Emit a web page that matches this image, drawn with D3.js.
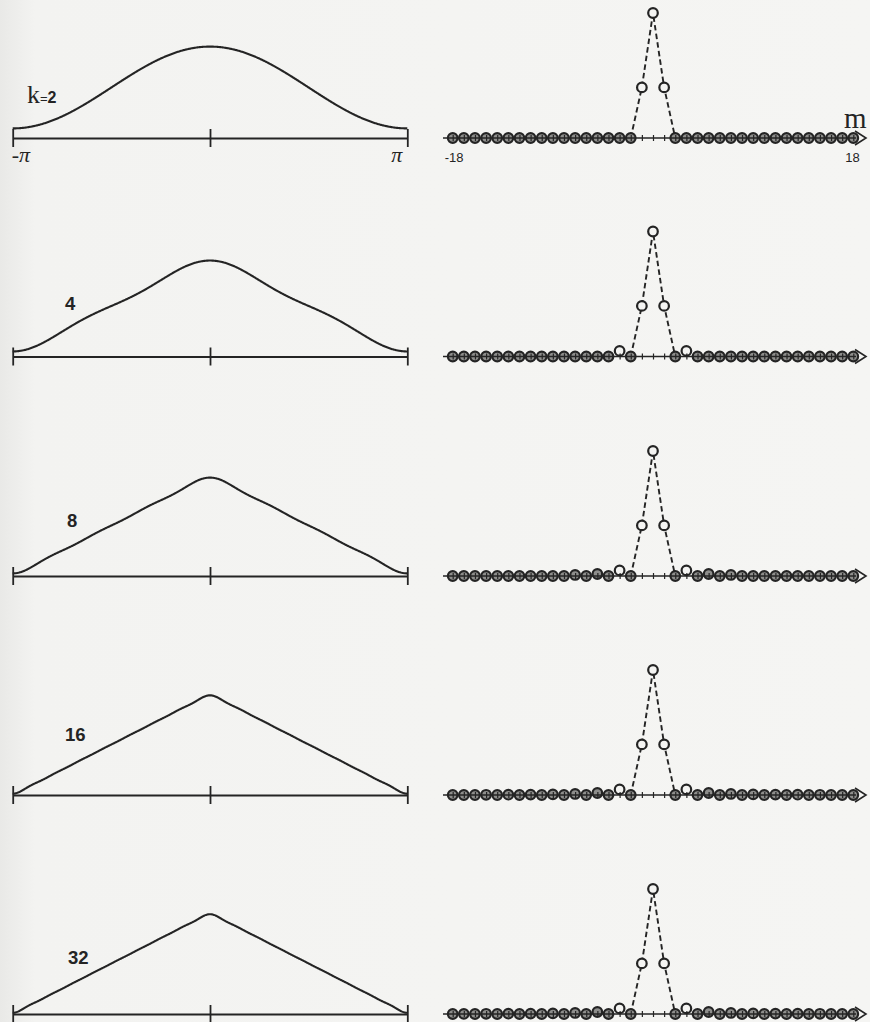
<!DOCTYPE html>
<html>
<head>
<meta charset="utf-8">
<script src="https://cdn.jsdelivr.net/npm/d3@7"></script>
<style>
  html, body { margin: 0; padding: 0; background: #f4f4f2; }
  svg { display: block; }
</style>
</head>
<body>
<svg id="chart" width="870" height="1022"></svg>
<script>
// Number of retained harmonics in each row (|m| < k)
const orders = [2, 4, 8, 16, 32];
const orderLabels = ["2", "4", "8", "16", "32"];

// Fourier amplitudes of the triangle wave, indexed by |m| = 0 … 18 (c0 = 1)
const spectrum = [1, 0.405, 0, 0.045, 0, 0.016, 0, 0.0083, 0, 0.005, 0,
                  0.0034, 0, 0.0024, 0, 0.0018, 0, 0.0014, 0];

// Axis annotations
const thetaTickLabels = ["-π", "π"];
const mTickLabels = ["-18", "18"];
const mDomain = [-18, 18];

// Layout
const W = 870, H = 1022;
const axisYs = [138, 356.5, 576, 795, 1014];
const labelPos = [[27, -35], [65, -47], [67, -49], [65, -54], [68, -50]];
const ink = "#242424";
const paper = "#f4f4f2";

const svg = d3.select("#chart");

// paper tone, slightly darker at the left edge
const defs = svg.append("defs");
const grad = defs.append("linearGradient").attr("id", "paper")
  .attr("x1", 0).attr("x2", 1).attr("y1", 0).attr("y2", 0);
grad.append("stop").attr("offset", 0).attr("stop-color", "#e9e9e7");
grad.append("stop").attr("offset", 0.04).attr("stop-color", "#f3f3f1");
grad.append("stop").attr("offset", 1).attr("stop-color", "#f5f5f3");
svg.append("rect").attr("width", W).attr("height", H).attr("fill", "url(#paper)");

const xL = d3.scaleLinear().domain([-Math.PI, Math.PI]).range([12.7, 407.3]);
const xR = d3.scaleLinear().domain(mDomain).range([452.7, 853.3]);
const mAll = d3.range(mDomain[0], mDomain[1] + 1);

orders.forEach((k, i) => {
  const y0 = axisYs[i];
  const yL = d3.scaleLinear().domain([0, 1]).range([y0, y0 - 50.5]);
  const yR = d3.scaleLinear().domain([0, 1]).range([y0, y0 - 125]);

  // coefficients kept in this row
  const coef = m => (Math.abs(m) < k ? spectrum[Math.abs(m)] : 0);
  const pts = mAll.map(m => ({ m, c: coef(m) }));

  // ---------- left: partial Fourier sum on [-π, π] ----------
  const g = svg.append("g");
  const samples = d3.range(0, 601).map(j => {
    const x = -Math.PI + (2 * Math.PI * j) / 600;
    let f = spectrum[0];
    for (let m = 1; m < Math.min(k, spectrum.length); m++) f += 2 * spectrum[m] * Math.cos(m * x);
    return [x, f];
  });
  g.append("path")
    .attr("d", d3.line().x(d => xL(d[0])).y(d => yL(d[1]))(samples))
    .attr("fill", "none").attr("stroke", ink).attr("stroke-width", 2.1)
    .attr("stroke-linejoin", "round");

  const axL = d3.axisBottom(xL).tickValues([-Math.PI, 0, Math.PI])
    .tickSize(0).tickFormat("");
  const axG = g.append("g").attr("transform", `translate(0,${y0})`).call(axL);
  axG.select(".domain").attr("stroke", ink).attr("stroke-width", 1.8);
  axG.selectAll(".tick line").attr("y1", -9).attr("y2", 9)
    .attr("stroke", ink).attr("stroke-width", 1.8);

  if (i === 0) {
    g.append("text").attr("x", xL(-Math.PI) - 1).attr("y", y0 + 24)
      .attr("font-family", "Liberation Serif").attr("font-style", "italic")
      .attr("font-size", 22).attr("fill", ink).text(thetaTickLabels[0]);
    g.append("text").attr("x", xL(Math.PI) - 16).attr("y", y0 + 24)
      .attr("font-family", "Liberation Serif").attr("font-style", "italic")
      .attr("font-size", 22).attr("fill", ink).text(thetaTickLabels[1]);
  }

  const lab = g.append("text")
    .attr("x", labelPos[i][0]).attr("y", y0 + labelPos[i][1]).attr("fill", ink);
  if (i === 0) {
    lab.append("tspan").attr("font-family", "Liberation Serif").attr("font-size", 26).text("k");
    lab.append("tspan").attr("font-family", "Liberation Sans").attr("font-size", 13).text("=");
    lab.append("tspan").attr("font-family", "Liberation Sans").attr("font-weight", "bold")
      .attr("font-size", 16).text(orderLabels[i]);
  } else {
    lab.attr("font-family", "Liberation Sans").attr("font-weight", "bold")
      .attr("font-size", 18.5).text(orderLabels[i]);
  }

  // ---------- right: coefficient sequence ----------
  const r = svg.append("g");
  const dashPts = pts.filter(d => Math.abs(d.m) <= 2);
  r.append("path")
    .attr("d", d3.line().x(d => xR(d.m)).y(d => yR(d.c))(dashPts))
    .attr("fill", "none").attr("stroke", ink).attr("stroke-width", 1.9)
    .attr("stroke-dasharray", "5.5,3.2");

  r.selectAll("circle").data(pts).enter().append("circle")
    .attr("cx", d => xR(d.m)).attr("cy", d => yR(d.c)).attr("r", 4.8)
    .attr("fill", d => (d.c > 0.03 ? paper : "#8e8e8c"))
    .attr("stroke", ink).attr("stroke-width", 2.2);

  // axis with a small tick at every integer m, ending in an open arrow
  const axR = d3.axisBottom(xR).tickValues(mAll).tickSize(0).tickFormat("");
  const axRG = r.append("g").attr("transform", `translate(0,${y0})`).call(axR);
  axRG.select(".domain").remove();
  axRG.selectAll(".tick line").attr("y1", -3).attr("y2", 3)
    .attr("stroke", ink).attr("stroke-width", 1.2);
  r.append("line").attr("x1", 443).attr("x2", 856).attr("y1", y0).attr("y2", y0)
    .attr("stroke", ink).attr("stroke-width", 1.6);
  r.append("path")
    .attr("d", `M855,${y0 - 7} L866,${y0} L855,${y0 + 7}`)
    .attr("fill", "none").attr("stroke", ink).attr("stroke-width", 1.6)
    .attr("stroke-linejoin", "miter");

  if (i === 0) {
    r.append("text").attr("x", xR(mDomain[0]) - 8).attr("y", y0 + 23.5)
      .attr("font-family", "Liberation Sans").attr("font-size", 13).attr("fill", ink)
      .text(mTickLabels[0]);
    r.append("text").attr("x", xR(mDomain[1]) - 8).attr("y", y0 + 23.5)
      .attr("font-family", "Liberation Sans").attr("font-size", 13).attr("fill", ink)
      .text(mTickLabels[1]);
    r.append("text").attr("x", 844).attr("y", y0 - 10)
      .attr("font-family", "Liberation Serif").attr("font-size", 29).attr("fill", ink)
      .text("m");
  }
});
</script>
</body>
</html>
